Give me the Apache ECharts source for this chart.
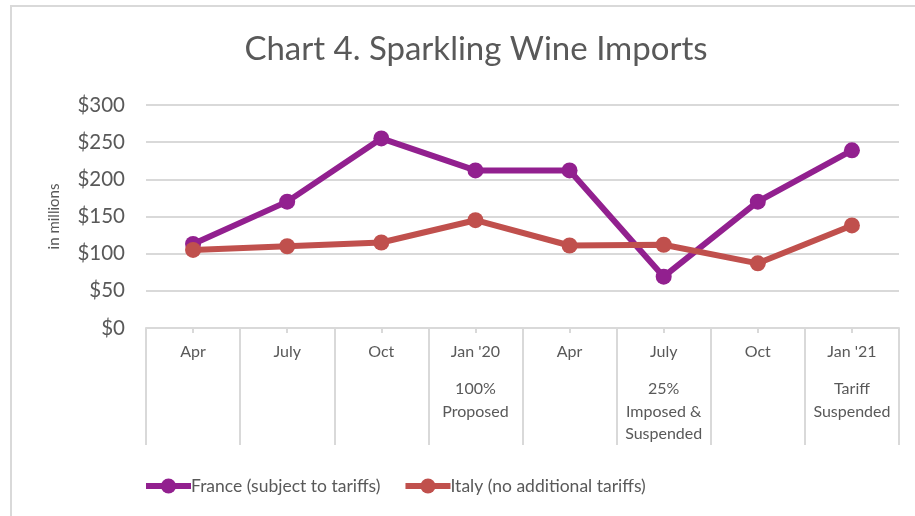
<!DOCTYPE html>
<html>
<head>
<meta charset="utf-8">
<script src="https://cdn.jsdelivr.net/npm/echarts@6/dist/echarts.min.js"></script>
<style>
  html, body { margin: 0; padding: 0; background: #fff; }
  #grafico { width: 915px; height: 516px; }
</style>
</head>
<body>
<div id="grafico"></div>
<script>
// datos
var meses = ['Apr', 'July', 'Oct', "Jan '20", 'Apr', 'July', 'Oct', "Jan '21"];
var notas = ['', '', '', '100%\nProposed', '', '25%\nImposed &\nSuspended', '', 'Tariff\nSuspended'];
var francia = [113, 170, 255, 212, 212, 69, 170, 239];
var italia = [105, 110, 115, 145, 111, 112, 87, 138];
var ticksY = [0, 50, 100, 150, 200, 250, 300];

var fuente = 'Lato, "Open Sans", sans-serif';
var gris = '#595959';

// etiqueta de categoria: mes arriba, nota debajo
var etiquetas = meses.map(function (m, i) {
    var s = '{m|' + m + '}';
    if (notas[i]) {
        s += notas[i].split('\n').map(function (l) { return '\n{s|' + l + '}'; }).join('');
    }
    return s;
});

var myChart = echarts.init(document.getElementById('grafico'));

var option = {
    backgroundColor: '#fff',
    textStyle: { fontFamily: fuente },
    title: {
        text: 'Chart 4. Sparkling Wine Imports',
        left: 471,
        textAlign: 'center',
        top: 28,
        textStyle: { fontFamily: fuente, fontSize: 33, fontWeight: 'normal', color: gris }
    },
    grid: { left: 146, right: 16, top: 105, bottom: 188, containLabel: false },
    legend: {
        left: 138,
        top: 472,
        itemWidth: 45,
        itemHeight: 19,
        itemGap: 22,
        lineStyle: { width: 6 },
        textStyle: { fontFamily: fuente, fontSize: 17.5, color: gris, padding: [0, 0, 0, -5] },
        data: ['France (subject to tariffs)', 'Italy (no additional tariffs)']
    },
    xAxis: [{
        type: 'category',
        data: etiquetas,
        boundaryGap: true,
        axisLine: { lineStyle: { color: '#d9d9d9', width: 2 } },
        axisTick: { show: true, length: 117, lineStyle: { color: '#d9d9d9', width: 2 } },
        axisLabel: {
            margin: -2,
            interval: 0,
            rich: {
                m: { fontFamily: fuente, fontSize: 16, color: gris, lineHeight: 52 },
                s: { fontFamily: fuente, fontSize: 16, color: gris, lineHeight: 22.5 }
            }
        }
    }, {
        // marcas cortas en el centro de cada categoria
        type: 'category',
        position: 'bottom',
        data: meses,
        axisLine: { show: false },
        axisTick: { show: true, alignWithLabel: true, length: 5, lineStyle: { color: '#d9d9d9', width: 2 } },
        axisLabel: { show: false }
    }],
    yAxis: {
        type: 'value',
        min: ticksY[0],
        max: ticksY[ticksY.length - 1],
        interval: 50,
        name: 'in millions',
        nameLocation: 'middle',
        nameRotate: 90,
        nameGap: 84,
        nameTextStyle: { fontFamily: fuente, fontSize: 15, color: gris },
        axisLine: { show: false },
        axisTick: { show: false },
        axisLabel: {
            margin: 21,
            fontFamily: fuente,
            fontSize: 20.5,
            color: gris,
            formatter: function (v) { return '$' + v; }
        },
        splitLine: { lineStyle: { color: '#d9d9d9', width: 2 } }
    },
    series: [{
        name: 'France (subject to tariffs)',
        type: 'line',
        data: francia,
        symbol: 'circle',
        symbolSize: 16,
        lineStyle: { width: 6, color: '#92208F' },
        itemStyle: { color: '#92208F' },
        z: 3
    }, {
        name: 'Italy (no additional tariffs)',
        type: 'line',
        data: italia,
        symbol: 'circle',
        symbolSize: 16,
        lineStyle: { width: 6, color: '#C0504D' },
        itemStyle: { color: '#C0504D' },
        z: 4
    }],
    graphic: [{
        type: 'rect',
        shape: { x: 11, y: 6, width: 920, height: 530 },
        style: { fill: 'none', stroke: '#d9d9d9', lineWidth: 2 },
        silent: true
    }]
};

myChart.setOption(option);
</script>
</body>
</html>
